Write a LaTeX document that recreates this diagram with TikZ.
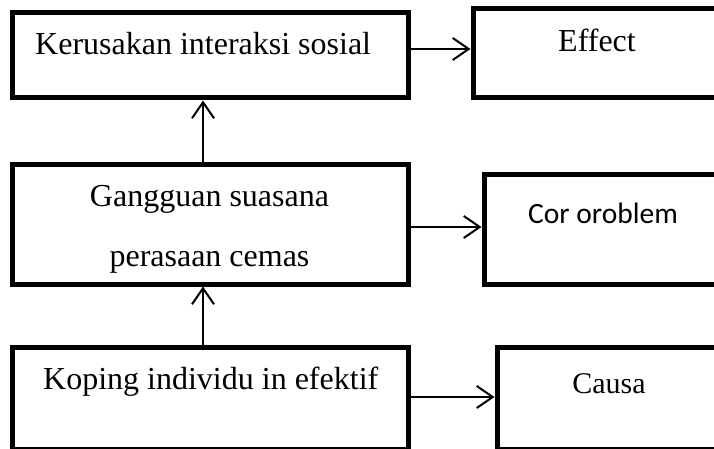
\documentclass[tikz,border=0pt]{standalone}
\usepackage{fontspec}
\setmainfont{Liberation Serif}
\newfontfamily\calibri{Carlito}
\usetikzlibrary{arrows.meta}

\begin{document}
\begin{tikzpicture}[
  x=1pt, y=-1pt,
  box/.style={draw, line width=5pt, inner sep=0pt},
  txt/.style={inner sep=0pt, font=\fontsize{32}{60}\selectfont},
  arr/.style={-{Straight Barb[length=16pt, width=22pt]}, line width=2pt}
]
\useasboundingbox (0,0) rectangle (714,449);
\clip (0,0) rectangle (714,449);

%─── Left column ──────────────────────────────────────────────────────────
\node[box, minimum width=395.3pt, minimum height=85pt]  (kerusakan) at (210.35,55.5) {};
\node[box, minimum width=395.3pt, minimum height=119pt] (gangguan)  at (210.35,224.5) {};
\node[box, minimum width=395.3pt, minimum height=102pt] (koping)    at (210.35,398) {};

\node[txt, anchor=base west] (tkerusakan) at (35,55) {Kerusakan interaksi sosial};
\node[txt, align=center, anchor=north] (tgangguan) at (209.5,185)
  {Gangguan suasana\\perasaan cemas};
\node[txt, anchor=base west] (tkoping) at (43,389) {Koping individu in efektif};

%─── Right column (cut off at the page edge) ─────────────────────────────
\node[box, minimum width=287pt, minimum height=89pt]  (effect) at (616.5,53.5) {};
\node[box, minimum width=276pt, minimum height=109pt] (cor)    at (622,229.5) {};
\node[box, minimum width=263pt, minimum height=102pt] (causa)  at (628.5,398) {};

\node[txt, anchor=base] (teffect) at (597,52) {Effect};
\node[txt, font=\calibri\fontsize{29.5}{35}\selectfont, anchor=base west]
  (tcor) at (528,223) {Cor oroblem};
\node[txt, font=\fontsize{30}{36}\selectfont, anchor=base] (tcausa) at (609,393) {Causa};

% upward arrows
\draw[arr] ([xshift=-7.35pt]koping.north) -- ([xshift=-7.35pt]gangguan.south);
\draw[arr] ([xshift=-7.35pt]gangguan.north) -- ([xshift=-7.35pt]kerusakan.south);

% arrows to the right
\draw[arr] (kerusakan.east) ++(0,-6.5) coordinate (ke) -- (ke -| effect.west);
\draw[arr] (gangguan.east) ++(0,2.5) coordinate (gc) -- (gc -| cor.west);
\draw[arr] (koping.east) ++(0,-1) coordinate (kc) -- (kc -| causa.west);

\end{tikzpicture}
\end{document}
